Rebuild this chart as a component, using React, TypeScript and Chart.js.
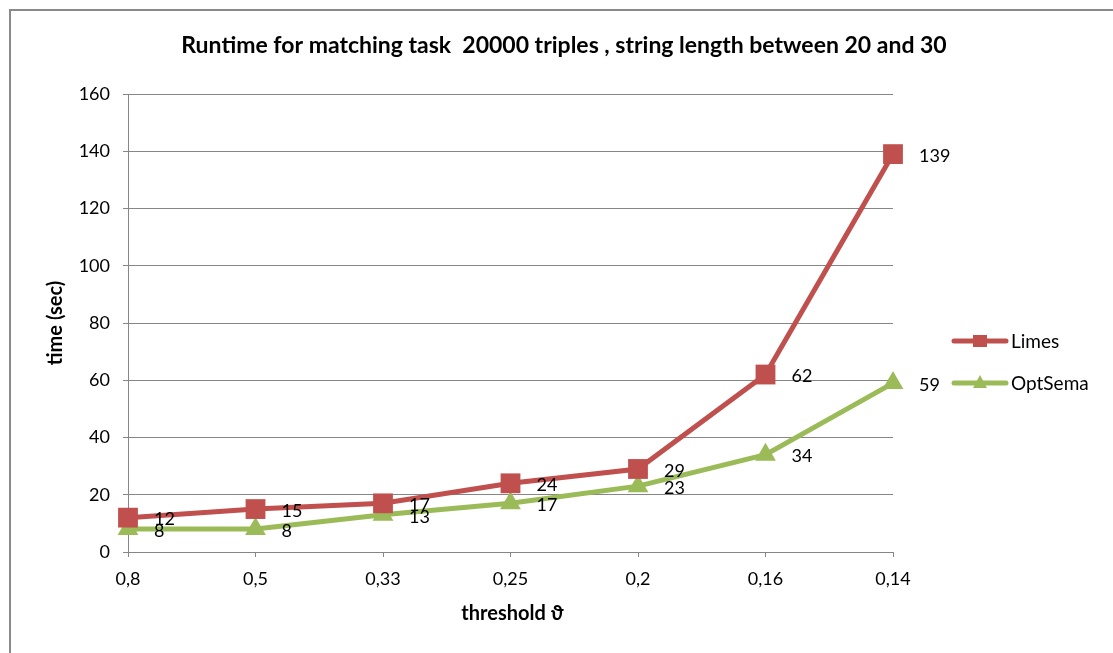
import React, { useEffect, useRef } from "react";
import { Chart, registerables } from "chart.js";

Chart.register(...registerables);

const categories = ["0,8", "0,5", "0,33", "0,25", "0,2", "0,16", "0,14"];
const limesValues = [12, 15, 17, 24, 29, 62, 139];
const optSemaValues = [8, 8, 13, 17, 23, 34, 59];
const seriesNames = ["Limes", "OptSema"];
const seriesColors = ["#C0504D", "#9BBB59"];
const yMin = 0;
const yMax = 160;
const yStep = 20;
const chartTitle = "Runtime for matching task  20000 triples , string length between 20 and 30";
const xTitle = "threshold \u03D1";
const yTitle = "time (sec)";

const FONT = "Lato, 'Open Sans', sans-serif";
const GRID = "#868686";

const decoPlugin = {
  id: "deco",
  afterDatasetsDraw(chart: any) {
    const ctx = chart.ctx;
    ctx.save();
    ctx.font = `18px ${FONT}`;
    ctx.fillStyle = "#000";
    ctx.textAlign = "left";
    ctx.textBaseline = "middle";
    chart.data.datasets.forEach((ds: any, i: number) => {
      const meta = chart.getDatasetMeta(i);
      meta.data.forEach((pt: any, j: number) => {
        ctx.fillText(String(ds.data[j]), pt.x + 26, pt.y + 2);
      });
    });
    ctx.restore();
  },
  afterDraw(chart: any) {
    const ctx = chart.ctx;
    const area = chart.chartArea;
    ctx.save();
    // border
    ctx.strokeStyle = "#8a8a8a";
    ctx.lineWidth = 2;
    ctx.strokeRect(10, 10, 1300, 1000);
    // title
    ctx.fillStyle = "#000";
    ctx.textAlign = "center";
    ctx.textBaseline = "middle";
    ctx.font = `bold 23px ${FONT}`;
    ctx.fillText(chartTitle, 564, 46);
    // x title
    ctx.font = `bold 20px ${FONT}`;
    ctx.fillText(xTitle, (area.left + area.right) / 2 + 2, 614);
    // y title
    ctx.save();
    ctx.translate(56, (area.top + area.bottom) / 2);
    ctx.rotate(-Math.PI / 2);
    ctx.fillText(yTitle, 0, 0);
    ctx.restore();
    // legend
    const legendY = [341, 383];
    chart.data.datasets.forEach((ds: any, i: number) => {
      const y = legendY[i];
      ctx.strokeStyle = ds.borderColor;
      ctx.lineWidth = 5;
      ctx.lineCap = "round";
      ctx.beginPath();
      ctx.moveTo(954, y);
      ctx.lineTo(1006, y);
      ctx.stroke();
      ctx.fillStyle = ds.borderColor;
      const cx = 980;
      if (i === 0) {
        ctx.fillRect(cx - 7, y - 6, 14, 12);
      } else {
        ctx.beginPath();
        ctx.moveTo(cx, y - 8);
        ctx.lineTo(cx + 7, y + 5);
        ctx.lineTo(cx - 7, y + 5);
        ctx.closePath();
        ctx.fill();
      }
      ctx.fillStyle = "#000";
      ctx.textAlign = "left";
      ctx.font = `19px ${FONT}`;
      ctx.fillText(ds.label, 1011, y + 1);
    });
    ctx.restore();
  },
};

export default function App() {
  const ref = useRef<HTMLCanvasElement>(null);
  useEffect(() => {
    if (!ref.current) return;
    const chart = new Chart(ref.current, {
      type: "line",
      data: {
        labels: categories,
        datasets: [
          {
            label: seriesNames[0],
            data: limesValues,
            borderColor: seriesColors[0],
            backgroundColor: seriesColors[0],
            borderWidth: 5,
            pointStyle: "rect",
            pointRadius: 14,
            pointBorderWidth: 0,
            tension: 0,
          },
          {
            label: seriesNames[1],
            data: optSemaValues,
            borderColor: seriesColors[1],
            backgroundColor: seriesColors[1],
            borderWidth: 5,
            pointStyle: "triangle",
            pointRadius: 12,
            pointBorderWidth: 0,
            tension: 0,
          },
        ],
      },
      options: {
        animation: false,
        responsive: false,
        layout: { padding: { left: 0, right: 220, top: 94, bottom: 0 } },
        plugins: {
          legend: { display: false },
          title: { display: false },
          tooltip: { enabled: false },
        },
        scales: {
          x: {
            offset: false,
            grid: { drawOnChartArea: false, drawTicks: true, tickLength: 5, color: GRID },
            border: { display: true, color: GRID, width: 1 },
            ticks: { font: { family: FONT, size: 18 }, color: "#000", padding: 11, maxRotation: 0 },
            afterFit: (s: any) => { s.height = 101; },
          },
          y: {
            min: yMin,
            max: yMax,
            grid: { color: GRID, drawTicks: true, tickLength: 5 },
            border: { display: true, color: GRID, width: 1 },
            ticks: { stepSize: yStep, font: { family: FONT, size: 18 }, color: "#000", padding: 13 },
            afterFit: (s: any) => { s.width = 128; },
          },
        },
      },
      plugins: [decoPlugin],
    });
    return () => chart.destroy();
  }, []);
  return (
    <div style={{ position: "fixed", left: 0, top: 0, width: 1113, height: 653, background: "#fff" }}>
      <canvas ref={ref} width={1113} height={653} />
    </div>
  );
}
